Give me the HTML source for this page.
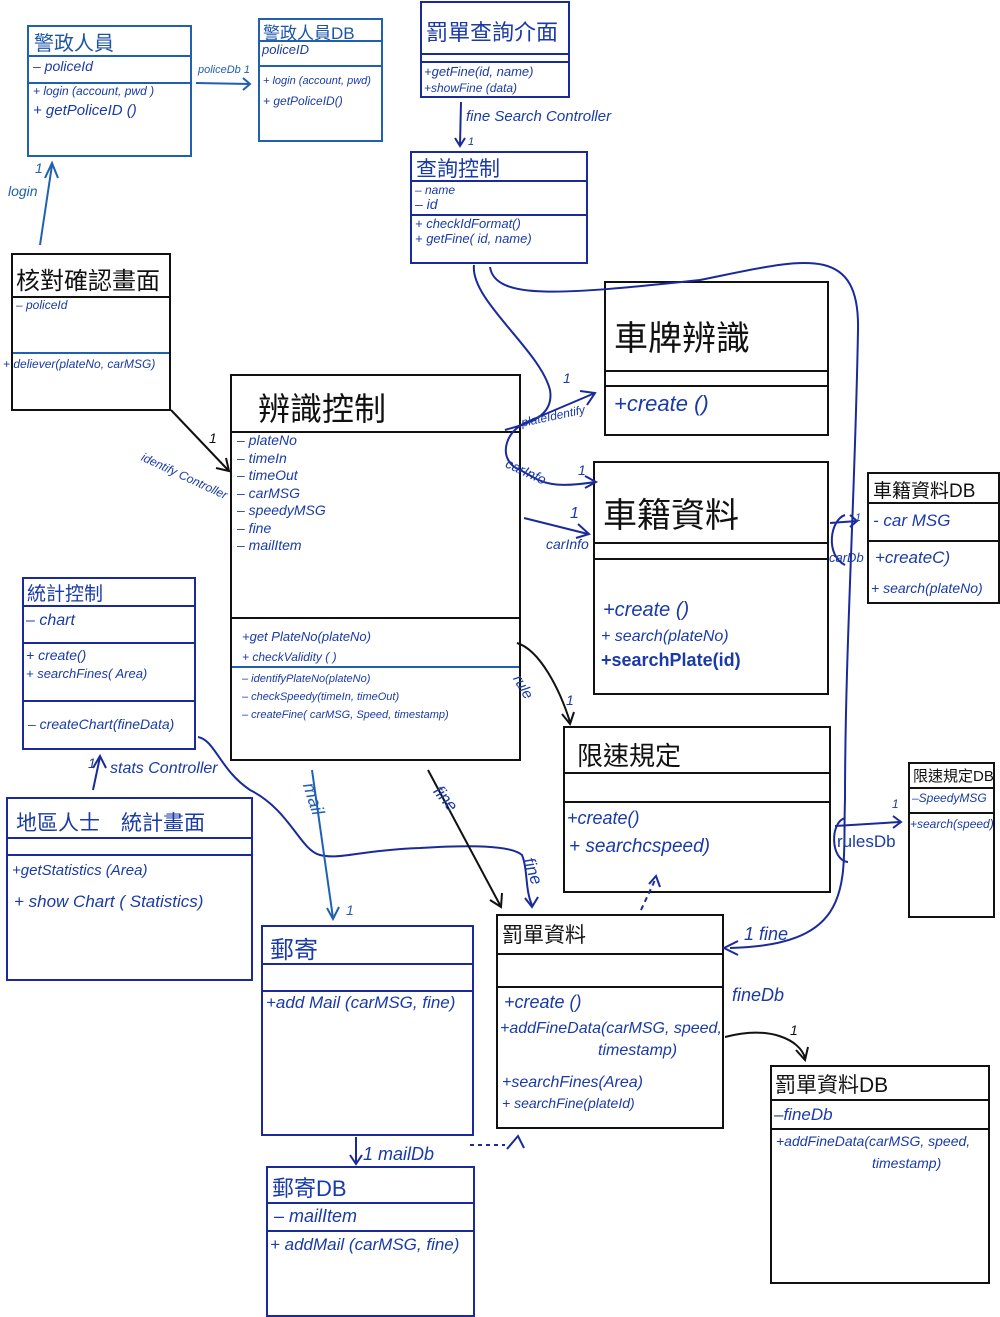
<!DOCTYPE html>
<html><head><meta charset="utf-8"><style>
body{margin:0;width:1000px;height:1317px;background:#fff;position:relative;overflow:hidden;font-family:"Liberation Sans","Noto Sans CJK TC",sans-serif;}
.b{position:absolute;border:2px solid #1a2a9a;box-sizing:border-box;}
.k{border-color:#111;}
.p{border-color:#2060b0;}
.l{position:absolute;left:0;right:0;height:0;border-top:2px solid #1a2a9a;}
.k .l{border-color:#111;}
.p .l{border-color:#2060b0;}
.t{position:absolute;white-space:nowrap;color:#1a3aa8;font-style:italic;}
.h{position:absolute;white-space:nowrap;color:#111;}
svg{position:absolute;left:0;top:0;}
</style></head><body>

<!-- 警政人員 -->
<div class="b p" style="left:27px;top:25px;width:165px;height:132px">
<div class="l" style="top:28px"></div><div class="l" style="top:55px"></div>
<div class="t" style="left:5px;top:0;font-size:20px;font-style:normal;color:#1c55a8">警政人員</div>
<div class="t" style="left:4px;top:31px;font-size:14px">– policeId</div>
<div class="t" style="left:4px;top:57px;font-size:12px">+ login (account, pwd )</div>
<div class="t" style="left:4px;top:75px;font-size:15px">+ getPoliceID ()</div>
</div>
<!-- 警政人員DB -->
<div class="b p" style="left:258px;top:18px;width:125px;height:124px">
<div class="l" style="top:20px"></div><div class="l" style="top:45px"></div>
<div class="t" style="left:3px;top:-1px;font-size:17px;font-style:normal;color:#1c55a8">警政人員DB</div>
<div class="t" style="left:2px;top:22px;font-size:13px">policeID</div>
<div class="t" style="left:3px;top:55px;font-size:11px">+ login (account, pwd)</div>
<div class="t" style="left:3px;top:74px;font-size:12px">+ getPoliceID()</div>
</div>
<!-- 罰單查詢介面 -->
<div class="b" style="left:420px;top:1px;width:150px;height:97px">
<div class="l" style="top:50px"></div><div class="l" style="top:58px"></div>
<div class="t" style="left:4px;top:12px;font-size:22px;font-style:normal">罰單查詢介面</div>
<div class="t" style="left:2px;top:61px;font-size:13px">+getFine(id, name)</div>
<div class="t" style="left:2px;top:78px;font-size:12px">+showFine (data)</div>
</div>
<!-- 查詢控制 -->
<div class="b" style="left:410px;top:151px;width:178px;height:113px">
<div class="l" style="top:27px"></div><div class="l" style="top:61px"></div>
<div class="t" style="left:4px;top:0;font-size:21px;font-style:normal">查詢控制</div>
<div class="t" style="left:3px;top:30px;font-size:12px">– name</div>
<div class="t" style="left:3px;top:43px;font-size:14px">– id</div>
<div class="t" style="left:3px;top:63px;font-size:13px">+ checkIdFormat()</div>
<div class="t" style="left:3px;top:78px;font-size:13px">+ getFine( id, name)</div>
</div>
<!-- 核對確認畫面 -->
<div class="b k" style="left:11px;top:253px;width:160px;height:158px">
<div class="l" style="top:41px"></div><div class="l" style="top:97px;border-color:#2060b0"></div>
<div class="h" style="left:3px;top:6px;font-size:24px">核對確認畫面</div>
<div class="t" style="left:3px;top:43px;font-size:12px">– policeId</div>
<div class="t" style="left:-10px;top:102px;font-size:12px">+ deliever(plateNo, carMSG)</div>
</div>
<!-- 車牌辨識 -->
<div class="b k" style="left:604px;top:281px;width:225px;height:155px">
<div class="l" style="top:87px"></div><div class="l" style="top:102px"></div>
<div class="h" style="left:8px;top:28px;font-size:34px">車牌辨識</div>
<div class="t" style="left:8px;top:108px;font-size:22px">+create ()</div>
</div>
<!-- 辨識控制 -->
<div class="b k" style="left:230px;top:374px;width:291px;height:387px">
<div class="l" style="top:55px"></div><div class="l" style="top:241px"></div>
<div class="l" style="top:290px;border-color:#2060b0"></div>
<div class="h" style="left:26px;top:8px;font-size:32px">辨識控制</div>
<div class="t" style="left:5px;top:56px;font-size:14px;line-height:17.5px">– plateNo<br>– timeIn<br>– timeOut<br>– carMSG<br>– speedyMSG<br>– fine<br>– mailItem</div>
<div class="t" style="left:10px;top:253px;font-size:13px">+get PlateNo(plateNo)</div>
<div class="t" style="left:10px;top:274px;font-size:12px">+ checkValidity ( )</div>
<div class="t" style="left:10px;top:294px;font-size:11px;line-height:18px">– identifyPlateNo(plateNo)<br>– checkSpeedy(timeIn, timeOut)<br>– createFine( carMSG, Speed, timestamp)</div>
</div>
<!-- 車籍資料 -->
<div class="b k" style="left:593px;top:461px;width:236px;height:234px">
<div class="l" style="top:79px"></div><div class="l" style="top:95px"></div>
<div class="h" style="left:8px;top:25px;font-size:34px">車籍資料</div>
<div class="t" style="left:8px;top:136px;font-size:20px">+create ()</div>
<div class="t" style="left:6px;top:165px;font-size:16px">+ search(plateNo)</div>
<div class="t" style="left:6px;top:187px;font-size:18px;font-weight:bold;font-style:normal">+searchPlate(id)</div>
</div>
<!-- 車籍資料DB -->
<div class="b k" style="left:867px;top:472px;width:133px;height:132px">
<div class="l" style="top:28px"></div><div class="l" style="top:66px"></div>
<div class="h" style="left:4px;top:2px;font-size:19px">車籍資料DB</div>
<div class="t" style="left:4px;top:37px;font-size:17px">- car MSG</div>
<div class="t" style="left:6px;top:74px;font-size:17px">+createC)</div>
<div class="t" style="left:2px;top:106px;font-size:14px">+ search(plateNo)</div>
</div>
<!-- 統計控制 -->
<div class="b" style="left:22px;top:577px;width:174px;height:173px">
<div class="l" style="top:26px"></div><div class="l" style="top:63px"></div><div class="l" style="top:121px"></div>
<div class="t" style="left:3px;top:0;font-size:19px;font-style:normal">統計控制</div>
<div class="t" style="left:2px;top:33px;font-size:16px">– chart</div>
<div class="t" style="left:2px;top:68px;font-size:14px">+ create()</div>
<div class="t" style="left:2px;top:87px;font-size:13px">+ searchFines( Area)</div>
<div class="t" style="left:4px;top:137px;font-size:14px">– createChart(fineData)</div>
</div>
<!-- 地區人士統計畫面 -->
<div class="b" style="left:6px;top:797px;width:247px;height:184px">
<div class="l" style="top:38px"></div><div class="l" style="top:55px"></div>
<div class="t" style="left:8px;top:8px;font-size:21px;font-style:normal">地區人士　統計畫面</div>
<div class="t" style="left:4px;top:63px;font-size:15px">+getStatistics (Area)</div>
<div class="t" style="left:6px;top:93px;font-size:17px">+ show Chart ( Statistics)</div>
</div>
<!-- 限速規定 -->
<div class="b k" style="left:563px;top:726px;width:268px;height:167px">
<div class="l" style="top:44px"></div><div class="l" style="top:73px"></div>
<div class="h" style="left:12px;top:8px;font-size:26px">限速規定</div>
<div class="t" style="left:2px;top:80px;font-size:18px">+create()</div>
<div class="t" style="left:4px;top:108px;font-size:19px">+ searchcspeed)</div>
</div>
<!-- 限速規定DB -->
<div class="b k" style="left:908px;top:762px;width:87px;height:156px">
<div class="l" style="top:23px"></div><div class="l" style="top:48px"></div>
<div class="h" style="left:3px;top:1px;font-size:15px">限速規定DB</div>
<div class="t" style="left:2px;top:27px;font-size:12px">–SpeedyMSG</div>
<div class="t" style="left:0;top:53px;font-size:12px">+search(speed)</div>
</div>
<!-- 郵寄 -->
<div class="b" style="left:261px;top:925px;width:213px;height:211px">
<div class="l" style="top:36px"></div><div class="l" style="top:63px"></div>
<div class="t" style="left:7px;top:3px;font-size:24px;font-style:normal">郵寄</div>
<div class="t" style="left:3px;top:66px;font-size:17px">+add Mail (carMSG, fine)</div>
</div>
<!-- 罰單資料 -->
<div class="b k" style="left:496px;top:914px;width:228px;height:215px">
<div class="l" style="top:37px"></div><div class="l" style="top:70px"></div>
<div class="h" style="left:4px;top:3px;font-size:21px">罰單資料</div>
<div class="t" style="left:6px;top:76px;font-size:18px">+create ()</div>
<div class="t" style="left:2px;top:104px;font-size:16px">+addFineData(carMSG, speed,</div>
<div class="t" style="left:100px;top:126px;font-size:16px">timestamp)</div>
<div class="t" style="left:4px;top:158px;font-size:16px">+searchFines(Area)</div>
<div class="t" style="left:4px;top:179px;font-size:14px">+ searchFine(plateId)</div>
</div>
<!-- 罰單資料DB -->
<div class="b k" style="left:770px;top:1065px;width:220px;height:219px">
<div class="l" style="top:32px"></div><div class="l" style="top:61px"></div>
<div class="h" style="left:3px;top:2px;font-size:21px">罰單資料DB</div>
<div class="t" style="left:2px;top:38px;font-size:17px">–fineDb</div>
<div class="t" style="left:4px;top:66px;font-size:14px">+addFineData(carMSG, speed,</div>
<div class="t" style="left:100px;top:88px;font-size:14px">timestamp)</div>
</div>
<!-- 郵寄DB -->
<div class="b" style="left:266px;top:1166px;width:209px;height:151px">
<div class="l" style="top:34px"></div><div class="l" style="top:62px"></div>
<div class="t" style="left:4px;top:3px;font-size:22px;font-style:normal">郵寄DB</div>
<div class="t" style="left:6px;top:38px;font-size:18px">– mailItem</div>
<div class="t" style="left:2px;top:67px;font-size:17px">+ addMail (carMSG, fine)</div>
</div>

<svg width="1000" height="1317" viewBox="0 0 1000 1317" fill="none" stroke="#1a2a9a" stroke-width="2">
<path d="M40 245 L52 165" stroke="#2060b0"/><path d="M45 178 L52 163 L58 178" stroke="#2060b0"/>
<path d="M196 83 L250 84" stroke="#2060b0"/><path d="M243 78 L250 84 L243 90" stroke="#2060b0"/>
<path d="M461 102 L460 145"/><path d="M455 138 L460 146 L465 138"/>
<path d="M474 265 C470 300 540 350 550 390 C555 420 520 425 505 430"/>
<path d="M490 267 C495 300 560 295 700 280 C800 260 860 240 858 330 C855 500 845 650 845 800 C842 880 860 945 730 948"/>
<path d="M738 941 L724 948 L738 955"/>
<path d="M522 424 L595 393"/><path d="M580 391 L595 393 L587 405"/>
<path d="M535 420 C505 425 495 460 520 470 C540 480 545 490 595 482" />
<path d="M585 476 L596 482 L585 488"/>
<path d="M524 518 L588 534"/><path d="M578 524 L589 534 L576 538"/>
<path d="M830 523 L857 521"/><path d="M850 515 L857 521 L850 527"/>
<path d="M845 515 C830 520 825 555 845 565"/>
<path d="M835 826 L900 822"/><path d="M893 816 L901 822 L893 828"/>
<path d="M845 818 C830 822 830 860 848 862"/>
<path d="M517 643 C540 650 560 690 570 722" stroke="#111"/><path d="M562 714 L570 724 L574 712" stroke="#111"/>
<path d="M171 410 L228 470" stroke="#111"/><path d="M216 468 L229 471 L226 458" stroke="#111"/>
<path d="M93 790 L100 757"/><path d="M93 768 L100 756 L106 768"/>
<path d="M198 737 C215 740 220 770 250 790 C290 810 300 850 320 855 C340 860 360 850 420 848 C470 845 510 845 522 855 C528 870 525 890 532 905"/>
<path d="M525 898 L532 907 L538 897"/>
<path d="M312 770 L333 918" stroke="#2060b0"/><path d="M327 908 L333 919 L339 907" stroke="#2060b0"/>
<path d="M428 770 L500 905" stroke="#111"/><path d="M490 900 L501 907 L502 893" stroke="#111"/>
<path d="M641 910 L655 880" stroke-dasharray="5,4"/><path d="M649 884 L656 876 L660 887"/>
<path d="M725 1037 C770 1025 800 1040 805 1058" stroke="#111"/><path d="M796 1050 L805 1060 L808 1047" stroke="#111"/>
<path d="M356 1137 L356 1162"/><path d="M350 1155 L356 1164 L362 1155"/>
<path d="M470 1145 L505 1145" stroke-dasharray="4,4"/><path d="M507 1149 L518 1136 L524 1148"/>
</svg>

<div class="t" style="left:8px;top:183px;font-size:14px;color:#2060b0">login</div>
<div class="t" style="left:35px;top:160px;font-size:14px;color:#2060b0">1</div>
<div class="t" style="left:198px;top:64px;font-size:11px;color:#2060b0">policeDb 1</div>
<div class="t" style="left:466px;top:108px;font-size:15px">fine Search Controller</div>
<div class="t" style="left:468px;top:136px;font-size:11px">1</div>
<div class="t" style="left:145px;top:450px;font-size:12px;transform:rotate(25deg);transform-origin:0 0">identify Controller</div>
<div class="t" style="left:209px;top:430px;font-size:14px;color:#111">1</div>
<div class="t" style="left:520px;top:416px;font-size:12px;transform:rotate(-12deg);transform-origin:0 0">plateIdentify</div>
<div class="t" style="left:563px;top:370px;font-size:14px">1</div>
<div class="t" style="left:510px;top:455px;font-size:14px;transform:rotate(25deg);transform-origin:0 0">carInfo</div>
<div class="t" style="left:578px;top:462px;font-size:14px">1</div>
<div class="t" style="left:546px;top:536px;font-size:14px">carInfo</div>
<div class="t" style="left:570px;top:505px;font-size:16px">1</div>
<div class="t" style="left:829px;top:550px;font-size:13px">carDb</div>
<div class="t" style="left:855px;top:512px;font-size:11px">1</div>
<div class="t" style="left:524px;top:672px;font-size:15px;transform:rotate(60deg);transform-origin:0 0">rule</div>
<div class="t" style="left:566px;top:692px;font-size:14px">1</div>
<div class="t" style="left:837px;top:832px;font-size:17px;font-style:normal">rulesDb</div>
<div class="t" style="left:892px;top:797px;font-size:12px">1</div>
<div class="t" style="left:110px;top:760px;font-size:16px">stats Controller</div>
<div class="t" style="left:88px;top:755px;font-size:14px">1</div>
<div class="t" style="left:318px;top:780px;font-size:18px;color:#2060b0;transform:rotate(72deg);transform-origin:0 0">mail</div>
<div class="t" style="left:346px;top:902px;font-size:14px;color:#2060b0">1</div>
<div class="t" style="left:444px;top:782px;font-size:17px;transform:rotate(50deg);transform-origin:0 0">fine</div>
<div class="t" style="left:537px;top:855px;font-size:17px;transform:rotate(70deg);transform-origin:0 0">fine</div>
<div class="t" style="left:744px;top:924px;font-size:18px">1 fine</div>
<div class="t" style="left:732px;top:985px;font-size:18px">fineDb</div>
<div class="t" style="left:790px;top:1022px;font-size:14px;color:#111">1</div>
<div class="t" style="left:363px;top:1144px;font-size:18px">1 mailDb</div>
</body></html>
